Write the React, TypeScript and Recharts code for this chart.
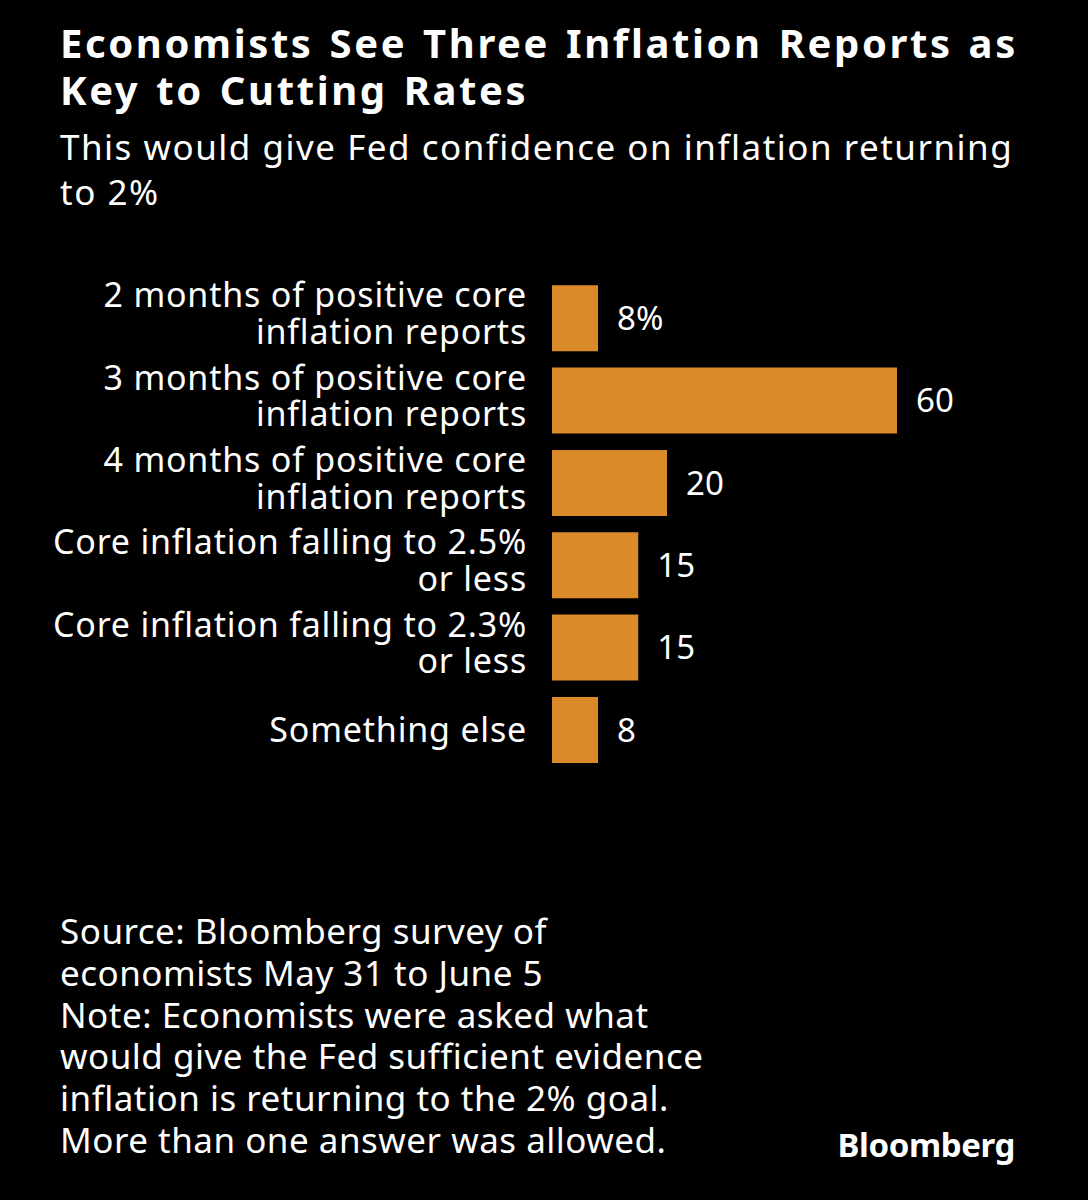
import React from "react";
import { Bar, BarChart, LabelList, XAxis, YAxis } from "recharts";

const categories = [
  "2 months of positive core|inflation reports",
  "3 months of positive core|inflation reports",
  "4 months of positive core|inflation reports",
  "Core inflation falling to 2.5%|or less",
  "Core inflation falling to 2.3%|or less",
  "Something else",
];
const shares = [8, 60, 20, 15, 15, 8];
const valueLabels = ["8%", "60", "20", "15", "15", "8"];

const noteLines = [
  "Source: Bloomberg survey of",
  "economists May 31 to June 5",
  "Note: Economists were asked what",
  "would give the Fed sufficient evidence",
  "inflation is returning to the 2% goal.",
  "More than one answer was allowed.",
];

const FONT = "'Noto Sans', 'Open Sans', sans-serif";
const ORANGE = "#DA8A28";

const data = categories.map((c, i) => ({ name: c, value: shares[i], label: valueLabels[i] }));

// baseline offsets from the band centre, one- and two-line labels
const LINE_OFFSETS: Record<number, number[]> = { 1: [12], 2: [-11, 25.7] };

function CategoryTick(props: any) {
  const { x, y, payload } = props;
  const lines = String(payload.value).split("|");
  const offs = LINE_OFFSETS[lines.length];
  return (
    <text
      x={x}
      y={y}
      textAnchor="end"
      fill="#fff"
      fontSize={34}
      fontFamily={FONT}
      style={{ letterSpacing: "0.8px" }}
    >
      {lines.map((l, i) => (
        <tspan key={i} x={x} y={y + offs[i]}>
          {l}
        </tspan>
      ))}
    </text>
  );
}

export default function App() {
  return (
    <div
      style={{
        position: "absolute",
        left: 0,
        top: 0,
        width: 1088,
        height: 1200,
        background: "#000",
        color: "#fff",
        fontFamily: FONT,
        overflow: "hidden",
      }}
    >
      <div
        style={{
          position: "absolute",
          left: 60,
          top: 19,
          fontSize: 40,
          fontWeight: 700,
          lineHeight: "47px",
          letterSpacing: 2.6,
          wordSpacing: 3,
          whiteSpace: "nowrap",
        }}
      >
        Economists See Three Inflation Reports as
        <br />
        Key to Cutting Rates
      </div>
      <div
        style={{
          position: "absolute",
          left: 60,
          top: 124,
          fontSize: 35,
          lineHeight: "45px",
          letterSpacing: 1.5,
          whiteSpace: "nowrap",
        }}
      >
        This would give Fed confidence on inflation returning
        <br />
        to 2%
      </div>

      <div style={{ position: "absolute", left: 0, top: 247 }}>
        <BarChart
          width={1088}
          height={554}
          layout="vertical"
          data={data}
          margin={{ top: 30, right: 191, bottom: 30, left: 0 }}
          barCategoryGap="10%"
          style={{ overflow: "visible" }}
        >
          <XAxis type="number" domain={[0, 60]} hide />
          <YAxis
            type="category"
            dataKey="name"
            width={552}
            axisLine={false}
            tickLine={false}
            tickSize={0}
            tickMargin={25}
            tick={<CategoryTick />}
            interval={0}
          />
          <Bar dataKey="value" fill={ORANGE} isAnimationActive={false}>
            <LabelList
              dataKey="label"
              position="right"
              offset={19}
              fill="#fff"
              fontSize={33}
              fontFamily={FONT}
            />
          </Bar>
        </BarChart>
      </div>

      <div
        style={{
          position: "absolute",
          left: 60,
          top: 910,
          fontSize: 35,
          lineHeight: "41.8px",
          letterSpacing: 0.5,
          whiteSpace: "nowrap",
        }}
      >
        {noteLines.map((l, i) => (
          <div key={i}>{l}</div>
        ))}
      </div>
      <div
        style={{
          position: "absolute",
          right: 73,
          top: 1125,
          fontSize: 33,
          lineHeight: "40px",
          fontWeight: 700,
          letterSpacing: -0.4,
        }}
      >
        Bloomberg
      </div>
    </div>
  );
}
